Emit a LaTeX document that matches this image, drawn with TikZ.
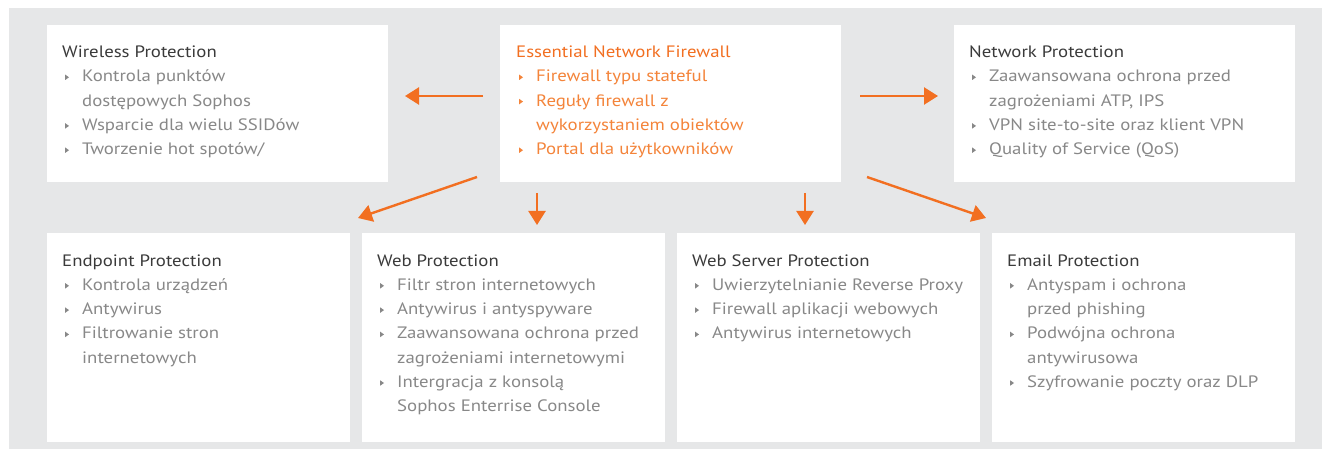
\documentclass[tikz,border=0pt]{standalone}
\usepackage{fontspec}
\setmainfont{PT Sans}[FakeStretch=1.14]
\usetikzlibrary{arrows.meta}
\definecolor{bggray}{HTML}{E6E7E8}
\definecolor{titlecol}{HTML}{3A3A3A}
\definecolor{itemcol}{HTML}{888888}
\definecolor{orng}{HTML}{F26F21}
\definecolor{orngtxt}{HTML}{F4843A}
\newcommand\bul[1]{\makebox[20pt][l]{\hspace{3pt}\tikz[baseline=0pt]\fill[#1] (0,1.8pt)--(0,7.2pt)--(3.8pt,4.5pt)--cycle;}}
\newcommand\boxtext[3]{%
  \fontsize{16.5}{24.3}\selectfont\renewcommand\arraystretch{1}%
  \begin{tabular}[t]{@{}l@{}l@{}}\multicolumn{2}{@{}l@{}}{\color{#1}#3}\\#2\end{tabular}}
\tikzset{
  panel/.style={fill=white, draw=none, anchor=north west, inner sep=0pt},
  btxt/.style={anchor=base west, inner sep=0pt, text=itemcol},
  arr/.style={draw=orng, line width=2.4pt, -{Triangle[length=14pt,width=17pt]}},
}
\begin{document}
\begin{tikzpicture}[x=1pt,y=-1pt]
\useasboundingbox (0,0) rectangle (1322,449);
\fill[bggray] (9,8) rectangle (1322,449);
% top row
\node[panel, minimum width=341pt, minimum height=157pt] (wl) at (47,25) {};
\node[panel, minimum width=341pt, minimum height=157pt] (cen) at (500,25) {};
\node[panel, minimum width=341pt, minimum height=157pt] (np) at (954,25) {};
% bottom row
\node[panel, minimum width=303pt, minimum height=209pt] (ep) at (47,233) {};
\node[panel, minimum width=303pt, minimum height=209pt] (wp) at (362,233) {};
\node[panel, minimum width=303pt, minimum height=209pt] (ws) at (677,233) {};
\node[panel, minimum width=303pt, minimum height=209pt] (em) at (992,233) {};
% texts
\node[btxt] (wlt) at (62,57.5) {\boxtext{titlecol}{%
\bul{itemcol}&Kontrola punktów\\&dostępowych Sophos\\
\bul{itemcol}&Wsparcie dla wielu SSIDów\\
\bul{itemcol}&Tworzenie hot spotów/}{Wireless Protection}};
\node[btxt, text=orngtxt] (cent) at (516,57.5) {\boxtext{orng}{%
\bul{orngtxt}&Firewall typu stateful\\
\bul{orngtxt}&Reguły firewall z\\&wykorzystaniem obiektów\\
\bul{orngtxt}&Portal dla użytkowników}{Essential Network Firewall}};
\node[btxt] (npt) at (969,57.5) {\boxtext{titlecol}{%
\bul{itemcol}&Zaawansowana ochrona przed\\&zagrożeniami ATP, IPS\\
\bul{itemcol}&VPN site-to-site oraz klient VPN\\
\bul{itemcol}&Quality of Service (QoS)}{Network Protection}};
\node[btxt] (ept) at (62,266) {\boxtext{titlecol}{%
\bul{itemcol}&Kontrola urządzeń\\
\bul{itemcol}&Antywirus\\
\bul{itemcol}&Filtrowanie stron\\&internetowych}{Endpoint Protection}};
\node[btxt] (wpt) at (377,266) {\boxtext{titlecol}{%
\bul{itemcol}&Filtr stron internetowych\\
\bul{itemcol}&Antywirus i antyspyware\\
\bul{itemcol}&Zaawansowana ochrona przed\\&zagrożeniami internetowymi\\
\bul{itemcol}&Intergracja z konsolą\\&Sophos Enterrise Console}{Web Protection}};
\node[btxt] (wst) at (692,266) {\boxtext{titlecol}{%
\bul{itemcol}&Uwierzytelnianie Reverse Proxy\\
\bul{itemcol}&Firewall aplikacji webowych\\
\bul{itemcol}&Antywirus internetowych}{Web Server Protection}};
\node[btxt] (emt) at (1007,266) {\boxtext{titlecol}{%
\bul{itemcol}&Antyspam i ochrona\\&przed phishing\\
\bul{itemcol}&Podwójna ochrona\\&antywirusowa\\
\bul{itemcol}&Szyfrowanie poczty oraz DLP}{Email Protection}};
% arrow coordinates
\coordinate (aLs) at (483,96);   \coordinate (aLe) at (405,96);
\coordinate (aRs) at (860,96);   \coordinate (aRe) at (938,96);
\coordinate (dLs) at (477,177);  \coordinate (dLe) at (358,218);
\coordinate (dRs) at (867,177);  \coordinate (dRe) at (986,218);
\coordinate (v1s) at (537,193);  \coordinate (v1e) at (537,225);
\coordinate (v2s) at (805,193);  \coordinate (v2e) at (805,225);
\draw[arr] (aLs) -- (aLe);
\draw[arr] (aRs) -- (aRe);
\draw[arr] (dLs) -- (dLe);
\draw[arr] (dRs) -- (dRe);
\draw[arr] (v1s) -- (v1e);
\draw[arr] (v2s) -- (v2e);
\end{tikzpicture}
\end{document}
